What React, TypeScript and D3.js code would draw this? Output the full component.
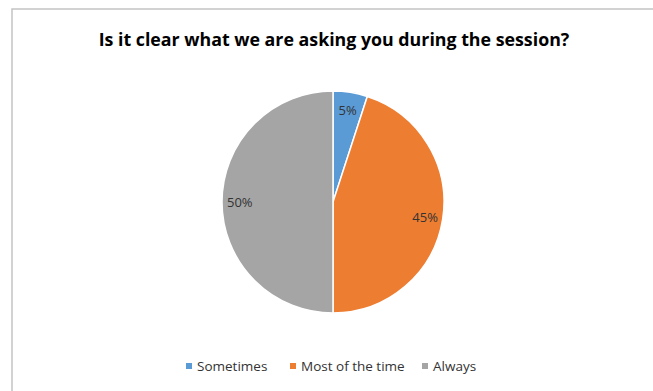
import React from "react";
import * as d3 from "d3";

const categories = ["Sometimes", "Most of the time", "Always"];
const values = [5, 45, 50];
const colors = ["#5B9BD5", "#ED7D31", "#A5A5A5"];
const title = "Is it clear what we are asking you during the session?";

export default function App() {
  const W = 653, H = 391;
  const cx = 333, cy = 202, r = 111;
  const data = categories.map((c, i) => ({ c, v: values[i], color: colors[i] }));
  const pie = d3.pie<any>().value((d) => d.v).sort(null);
  const arcs = pie(data);
  const arc = d3.arc<any>().innerRadius(0).outerRadius(r);
  const labelArc = d3.arc<any>().innerRadius(r * 0.84).outerRadius(r * 0.84);
  const legendX = [186, 290, 422];
  return (
    <svg width={W} height={H} style={{ position: "absolute", left: 0, top: 0, background: "#fff" }}
      fontFamily="'Open Sans', 'Liberation Sans', sans-serif">
      <rect x={12} y={9} width={W} height={H} fill="#fff" stroke="#c4c4c4" strokeWidth={1.5} />
      <text x={334} y={46} textAnchor="middle" fontWeight="bold" fontSize={17.8} fill="#000">{title}</text>
      <g transform={`translate(${cx},${cy})`}>
        {arcs.map((a, i) => (
          <path key={i} d={arc(a) as string} fill={a.data.color} stroke="#fff" strokeWidth={1.5} />
        ))}
        {arcs.map((a, i) => {
          const [x, y] = labelArc.centroid(a);
          return (
            <text key={i} x={x} y={y} textAnchor="middle" dominantBaseline="central" fontSize={13} fill="#333">
              {a.data.v}%
            </text>
          );
        })}
      </g>
      {data.map((d, i) => (
        <g key={i} transform={`translate(${legendX[i]},366)`}>
          <rect x={0} y={-3} width={6} height={6} fill={d.color} />
          <text x={11} y={0} dominantBaseline="central" fontSize={13.5} fill="#333">{d.c}</text>
        </g>
      ))}
    </svg>
  );
}
